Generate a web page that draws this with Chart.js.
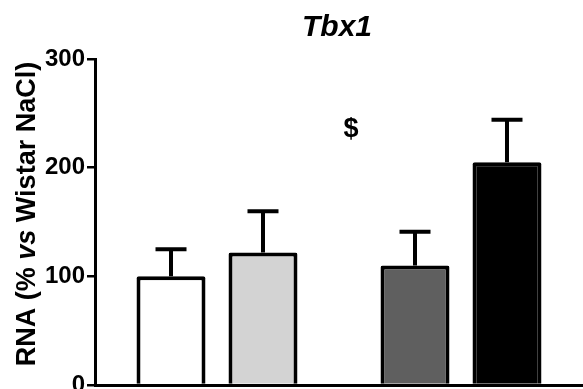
<!DOCTYPE html>
<html>
<head>
<meta charset="utf-8">
<script src="https://cdn.jsdelivr.net/npm/chart.js@4.4.0/dist/chart.umd.min.js"></script>
<style>
  html, body { margin: 0; padding: 0; background: #fff; }
  #wrap { width: 583px; height: 389px; }
</style>
</head>
<body>
<div id="wrap"><canvas id="c" width="583" height="389"></canvas></div>
<script>
// ---- data ----
const groups = ["Wistar", "Group 2"];
const seriesA = [100, 110];          // first bar of each group
const seriesB = [122, 205];          // second bar of each group
const errorA = [25, 31];             // upper SEM
const errorB = [38, 39];
const colorsA = ["#ffffff", "#5f5f5f"];
const colorsB = ["#d3d3d3", "#000000"];
const yTicks = [0, 100, 200, 300];
const chartTitle = "Tbx1";
const yTitleParts = [["RNA (% ", false], ["vs", true], [" Wistar NaCl)", false]];
const annotation = { text: "$", value: 235 };

const FONT = '"Liberation Sans", Arial, sans-serif';

const errorBars = {
  id: 'errorBars',
  afterDatasetsDraw(chart) {
    const ctx = chart.ctx;
    const errs = [errorA, errorB];
    chart.data.datasets.forEach((ds, di) => {
      const meta = chart.getDatasetMeta(di);
      meta.data.forEach((bar, i) => {
        const top = chart.scales.y.getPixelForValue(ds.data[i] + errs[di][i]);
        const x = bar.x;
        ctx.save();
        ctx.strokeStyle = '#000';
        ctx.lineWidth = 4;
        ctx.beginPath();
        ctx.moveTo(x, bar.y);
        ctx.lineTo(x, top);
        ctx.moveTo(x - 15.5, top);
        ctx.lineTo(x + 15.5, top);
        ctx.stroke();
        ctx.restore();
      });
    });
  }
};

const texts = {
  id: 'texts',
  afterDraw(chart) {
    const ctx = chart.ctx;
    ctx.save();
    ctx.fillStyle = '#000';
    // title
    ctx.font = 'italic bold 30px ' + FONT;
    ctx.textAlign = 'center';
    ctx.textBaseline = 'alphabetic';
    ctx.fillText(chartTitle, 337, 36);
    // annotation
    ctx.font = 'bold 27px ' + FONT;
    ctx.textBaseline = 'middle';
    ctx.fillText(annotation.text, 351, chart.scales.y.getPixelForValue(annotation.value));
    // y title
    ctx.textBaseline = 'alphabetic';
    ctx.translate(35, 214);
    ctx.rotate(-Math.PI / 2);
    let total = 0;
    const widths = yTitleParts.map(([t, it]) => {
      ctx.font = (it ? 'italic ' : '') + 'bold 27px ' + FONT;
      const w = ctx.measureText(t).width;
      total += w;
      return w;
    });
    let x = -total / 2;
    ctx.textAlign = 'left';
    yTitleParts.forEach(([t, it], k) => {
      ctx.font = (it ? 'italic ' : '') + 'bold 27px ' + FONT;
      ctx.fillText(t, x, 0);
      x += widths[k];
    });
    ctx.restore();
  }
};

new Chart(document.getElementById('c'), {
  type: 'bar',
  data: {
    labels: groups,
    datasets: [
      { data: seriesA, backgroundColor: colorsA, borderColor: '#000', borderWidth: 4, borderRadius: 2,
        barPercentage: 0.75, categoryPercentage: 0.754 },
      { data: seriesB, backgroundColor: colorsB, borderColor: '#000', borderWidth: 4, borderRadius: 2,
        barPercentage: 0.75, categoryPercentage: 0.754 }
    ]
  },
  options: {
    responsive: false,
    animation: false,
    layout: { padding: { top: 59, left: 0, right: -3, bottom: 4 } },
    plugins: { legend: { display: false }, tooltip: { enabled: false }, title: { display: false } },
    scales: {
      x: {
        grid: { display: false },
        ticks: { display: false },
        border: { display: true, color: '#000', width: 3 },
        afterFit(s) { s.height = 0; s.paddingLeft = 0; s.paddingRight = 0; }
      },
      y: {
        min: 0, max: 300,
        afterBuildTicks(s) { s.ticks = yTicks.map(v => ({ value: v })); },
        ticks: { color: '#000', font: { family: FONT, size: 24, weight: 'bold' }, padding: 2 },
        grid: { drawOnChartArea: false, drawTicks: true, tickLength: 8, color: '#000', lineWidth: 2.5 },
        border: { display: true, color: '#000', width: 3 },
        afterFit(s) { s.width = 95; s.paddingTop = 0; s.paddingBottom = 0; }
      }
    }
  },
  plugins: [errorBars, texts]
});
</script>
</body>
</html>
